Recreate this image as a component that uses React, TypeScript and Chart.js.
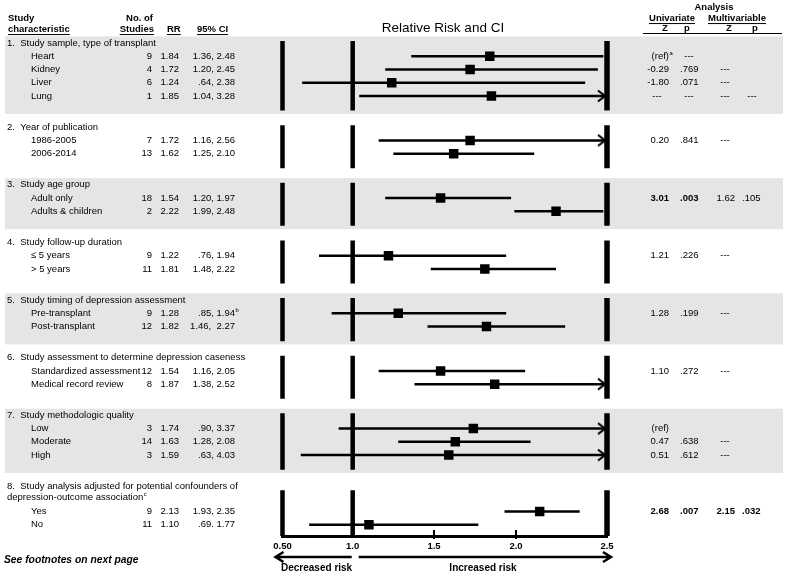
import React, { useEffect, useRef } from 'react';
import { Chart, registerables, LinearScale } from 'chart.js';

Chart.register(...registerables);

const FONT = "'Liberation Sans', Arial, Helvetica, sans-serif";

// ---------------- data ----------------
const groupTitles: string[][] = [
  ['1.  Study sample, type of transplant'],
  ['2.  Year of publication'],
  ['3.  Study age group'],
  ['4.  Study follow-up duration'],
  ['5.  Study timing of depression assessment'],
  ['6.  Study assessment to determine depression caseness'],
  ['7.  Study methodologic quality'],
  ['8.  Study analysis adjusted for potential confounders of', 'depression-outcome association^c'],
];
const groupSizes = [4, 2, 2, 2, 2, 2, 3, 2];

const rowLabels = [
  'Heart', 'Kidney', 'Liver', 'Lung',
  '1986-2005', '2006-2014',
  'Adult only', 'Adults & children',
  '\u2264 5 years', '> 5 years',
  'Pre-transplant', 'Post-transplant',
  'Standardized assessment', 'Medical record review',
  'Low', 'Moderate', 'High',
  'Yes', 'No',
];
const nStudies = [9, 4, 6, 1, 7, 13, 18, 2, 9, 11, 9, 12, 12, 8, 3, 14, 3, 9, 11];
const rr = [1.84, 1.72, 1.24, 1.85, 1.72, 1.62, 1.54, 2.22, 1.22, 1.81, 1.28, 1.82, 1.54, 1.87, 1.74, 1.63, 1.59, 2.13, 1.10];
const ciLow = [1.36, 1.20, 0.64, 1.04, 1.16, 1.25, 1.20, 1.99, 0.76, 1.48, 0.85, 1.46, 1.16, 1.38, 0.90, 1.28, 0.63, 1.93, 0.69];
const ciHigh = [2.48, 2.45, 2.38, 3.28, 2.56, 2.10, 1.97, 2.48, 1.94, 2.22, 1.94, 2.27, 2.05, 2.52, 3.37, 2.08, 4.03, 2.35, 1.77];
const ciText = [
  '1.36, 2.48', '1.20, 2.45', '.64, 2.38', '1.04, 3.28',
  '1.16, 2.56', '1.25, 2.10',
  '1.20, 1.97', '1.99, 2.48',
  '.76, 1.94', '1.48, 2.22',
  '.85, 1.94^b', '1.46,  2.27',
  '1.16, 2.05', '1.38, 2.52',
  '.90, 3.37', '1.28, 2.08', '.63, 4.03',
  '1.93, 2.35', '.69. 1.77',
];
const uniZ = ['(ref)^a', '-0.29', '-1.80', '---', '0.20', '', '3.01', '', '1.21', '', '1.28', '', '1.10', '', '(ref)', '0.47', '0.51', '2.68', ''];
const uniP = ['---', '.769', '.071', '---', '.841', '', '.003', '', '.226', '', '.199', '', '.272', '', '', '.638', '.612', '.007', ''];
const multiZ = ['', '---', '---', '---', '---', '', '1.62', '', '---', '', '---', '', '---', '', '', '---', '---', '2.15', ''];
const multiP = ['', '', '', '---', '', '', '.105', '', '', '', '', '', '', '', '', '', '', '.032', ''];
const boldUni = [false, false, false, false, false, false, true, false, false, false, false, false, false, false, false, false, false, true, false];
const boldMulti = [false, false, false, false, false, false, false, false, false, false, false, false, false, false, false, false, false, true, false];

// axis
const axisBreaks = [0.5, 1.0, 1.5, 2.0, 2.5];
const axisTickLabels = ['0.50', '1.0', '1.5', '2.0', '2.5'];
const refLines = [0.5, 1.0, 2.5];
const minorTicks = [1.5, 2.0];

// ---------------- layout ----------------
const W = 785, H = 575;
const PLOT_LEFT = 282.5, PLOT_RIGHT = 607, PLOT_TOP = 36, PLOT_BOTTOM = 536;
const ROW_H = 13.25, FIRST_ROW_Y = 43, GROUP_GAP = 2.35;
const axisFractions = [0, 0.2163, 0.4669, 0.7196, 1];
const Y_MIN = (PLOT_TOP - FIRST_ROW_Y) / ROW_H;
const Y_MAX = (PLOT_BOTTOM - FIRST_ROW_Y) / ROW_H;
const AX_MIN = axisBreaks[0], AX_MAX = axisBreaks[axisBreaks.length - 1];

// row slots
const groupSlot: number[] = [];
const lastSlot: number[] = [];
const rowSlot: number[] = [];
const rowGroup: number[] = [];
(() => {
  let s = 0;
  groupSizes.forEach((n, g) => {
    groupSlot.push(s);
    const first = groupTitles[g].length > 1 ? s + 1.9 : s + 1;
    for (let k = 0; k < n; k++) { rowSlot.push(first + k); rowGroup.push(g); }
    const last = first + n - 1;
    lastSlot.push(last);
    s = last + GROUP_GAP;
  });
})();

class PiecewiseLinearScale extends LinearScale {
  static id = 'piecewiseLinear';
  static defaults = {};
  pieceDecimal(value: number) {
    const b = axisBreaks, f = axisFractions;
    let i = 0;
    while (i < b.length - 2 && value > b[i + 1]) i++;
    return f[i] + ((value - b[i]) / (b[i + 1] - b[i])) * (f[i + 1] - f[i]);
  }
  getPixelForValue(value: any) {
    if (value === null || value === undefined || Number.isNaN(+value)) return NaN;
    return (this as any).getPixelForDecimal(this.pieceDecimal(+value));
  }
  getValueForPixel(pixel: number) {
    const d = (this as any).getDecimalForPixel(pixel);
    const b = axisBreaks, f = axisFractions;
    let i = 0;
    while (i < f.length - 2 && d > f[i + 1]) i++;
    return b[i] + ((d - f[i]) / (f[i + 1] - f[i])) * (b[i + 1] - b[i]);
  }
}
Chart.register(PiecewiseLinearScale as any);

function txt(
  ctx: CanvasRenderingContext2D, s: string, x: number, y: number,
  opt: { align?: 'left' | 'right' | 'center'; size?: number; bold?: boolean; italic?: boolean; underline?: boolean } = {}
) {
  if (!s) return;
  const size = opt.size ?? 9.5;
  const parts = s.split('^');
  const main = parts[0];
  const sup = parts[1];
  ctx.font = `${opt.italic ? 'italic ' : ''}${opt.bold ? 'bold ' : ''}${size}px ${FONT}`;
  const w = ctx.measureText(main).width;
  const x0 = opt.align === 'right' ? x - w : opt.align === 'center' ? x - w / 2 : x;
  ctx.textAlign = 'left';
  ctx.textBaseline = 'middle';
  ctx.fillStyle = '#000';
  ctx.fillText(main, x0, y);
  if (opt.underline) ctx.fillRect(x0, y + size * 0.5 + 0.3, w, 1);
  if (sup) {
    ctx.font = `${size * 0.62}px ${FONT}`;
    ctx.fillText(sup, x0 + w + 0.6, y - size * 0.32);
  }
}

function arrow(ctx: CanvasRenderingContext2D, x1: number, x2: number, y: number) {
  const dir = Math.sign(x2 - x1);
  ctx.beginPath();
  ctx.moveTo(x1, y);
  ctx.lineTo(x2, y);
  ctx.moveTo(x2 - dir * 8, y - 5);
  ctx.lineTo(x2, y);
  ctx.lineTo(x2 - dir * 8, y + 5);
  ctx.stroke();
}

const tablePlugin = {
  id: 'forestTable',
  beforeDraw(chart: any) {
    const ctx: CanvasRenderingContext2D = chart.ctx;
    const y = chart.scales.y;
    ctx.save();
    ctx.fillStyle = '#e5e5e5';
    groupSizes.forEach((_, g) => {
      if (g % 2 !== 0) return;
      const t = y.getPixelForValue(groupSlot[g] - 0.5);
      const b = y.getPixelForValue(lastSlot[g] + 1.35);
      ctx.fillRect(5, t, 778, b - t);
    });
    ctx.restore();
  },
  afterDraw(chart: any) {
    const ctx: CanvasRenderingContext2D = chart.ctx;
    const y = chart.scales.y;
    const x = chart.scales.x;
    ctx.save();

    // header
    txt(ctx, 'Study', 8, 18, { bold: true });
    txt(ctx, 'characteristic', 8, 29, { bold: true, underline: true });
    txt(ctx, 'No. of', 153, 18, { bold: true, align: 'right' });
    txt(ctx, 'Studies', 154, 29, { bold: true, align: 'right', underline: true });
    txt(ctx, 'RR', 167, 29, { bold: true, underline: true });
    txt(ctx, '95% CI', 197, 29, { bold: true, underline: true });
    txt(ctx, 'Relative Risk and CI', 443, 28, { size: 13.5, align: 'center' });
    txt(ctx, 'Analysis', 714, 7, { bold: true, align: 'center' });
    txt(ctx, 'Univariate', 672, 18, { bold: true, align: 'center', underline: true });
    txt(ctx, 'Multivariable', 737, 18, { bold: true, align: 'center', underline: true });
    txt(ctx, 'Z', 665, 28, { bold: true, align: 'center' });
    txt(ctx, 'p', 687, 28, { bold: true, align: 'center' });
    txt(ctx, 'Z', 729, 28, { bold: true, align: 'center' });
    txt(ctx, 'p', 755, 28, { bold: true, align: 'center' });
    ctx.fillStyle = '#000';
    ctx.fillRect(643, 33, 139, 1);

    // group titles
    groupTitles.forEach((lines, g) => {
      lines.forEach((line, k) => {
        txt(ctx, line, 7, y.getPixelForValue(groupSlot[g] + k * 0.85));
      });
    });

    // rows
    rowLabels.forEach((lab, i) => {
      const py = y.getPixelForValue(rowSlot[i]);
      txt(ctx, lab, 31, py);
      txt(ctx, String(nStudies[i]), 152, py, { align: 'right' });
      txt(ctx, rr[i].toFixed(2), 179, py, { align: 'right' });
      txt(ctx, ciText[i], 235, py, { align: 'right' });
      const dash = (s: string) => s === '---';
      txt(ctx, uniZ[i], dash(uniZ[i]) ? 657 : 669, py, { align: dash(uniZ[i]) ? 'center' : 'right', bold: boldUni[i] });
      txt(ctx, uniP[i], dash(uniP[i]) ? 689 : 680, py, { align: dash(uniP[i]) ? 'center' : 'left', bold: boldUni[i] });
      txt(ctx, multiZ[i], dash(multiZ[i]) ? 725 : 735, py, { align: dash(multiZ[i]) ? 'center' : 'right', bold: boldMulti[i] });
      txt(ctx, multiP[i], dash(multiP[i]) ? 752 : 742, py, { align: dash(multiP[i]) ? 'center' : 'left', bold: boldMulti[i] });
    });

    // minor axis ticks
    ctx.fillStyle = '#000';
    minorTicks.forEach((v) => {
      const px = x.getPixelForValue(v);
      ctx.fillRect(px - 1, PLOT_BOTTOM - 6, 2, 9);
    });

    // direction arrows
    ctx.strokeStyle = '#000';
    ctx.lineWidth = 2.5;
    ctx.lineCap = 'butt';
    ctx.lineJoin = 'miter';
    const p05 = x.getPixelForValue(AX_MIN);
    const p1 = x.getPixelForValue(1.0);
    const p25 = x.getPixelForValue(AX_MAX);
    arrow(ctx, p1 - 1, p05 - 7, 557);
    arrow(ctx, p1 + 6, p25 + 4, 557);
    txt(ctx, 'Decreased risk', (p05 + p1) / 2 - 1, 568, { bold: true, size: 10, align: 'center' });
    txt(ctx, 'Increased risk', 483, 568, { bold: true, size: 10, align: 'center' });

    txt(ctx, 'See footnotes on next page', 4, 560, { bold: true, italic: true, size: 10.3 });
    ctx.restore();
  },
};

export default function App() {
  const ref = useRef<HTMLCanvasElement>(null);
  useEffect(() => {
    const canvas = ref.current!;

    // chevron arrowhead image
    const chev = document.createElement('canvas');
    chev.width = 24; chev.height = 14;
    const g = chev.getContext('2d')!;
    g.strokeStyle = '#000'; g.lineWidth = 2.2; g.lineJoin = 'miter';
    g.beginPath(); g.moveTo(3, 1.5); g.lineTo(10, 7); g.lineTo(3, 12.5); g.stroke();

    const markerData = rr.map((v, i) => ({ x: v, y: rowSlot[i] }));
    const ciData: any[] = [];
    rr.forEach((_, i) => {
      ciData.push({ x: ciLow[i], y: rowSlot[i] }, { x: Math.min(ciHigh[i], AX_MAX), y: rowSlot[i] }, { x: null, y: null });
    });
    const arrowData = ciHigh
      .map((h, i) => (h > AX_MAX ? { x: AX_MAX, y: rowSlot[i] } : null))
      .filter((p) => p !== null);
    const barSegments = (r: number) => {
      const out: any[] = [];
      groupSizes.forEach((_, gi) => {
        const top = groupTitles[gi].length > 1 ? groupSlot[gi] + 0.3 : groupSlot[gi] - 0.15;
        const bottom = gi === groupSizes.length - 1 ? Y_MAX : lastSlot[gi] + 1.1;
        out.push({ x: r, y: top }, { x: r, y: bottom }, { x: null, y: null });
      });
      return out;
    };
    const lowBars = [...barSegments(refLines[0]), ...barSegments(refLines[1])];
    const highBars = barSegments(refLines[2]);

    const chart = new Chart(canvas, {
      type: 'scatter',
      data: {
        datasets: [
          { label: 'RR', data: markerData, pointStyle: 'rect', pointRadius: 6.7, backgroundColor: '#000', borderWidth: 0, showLine: false } as any,
          { label: '95% CI', data: ciData, showLine: true, borderColor: '#000', borderWidth: 2.5, pointRadius: 0, spanGaps: false, borderCapStyle: 'butt' } as any,
          { label: 'CI beyond axis', data: arrowData, pointStyle: chev, pointRadius: 5, showLine: false, clip: false } as any,
          { label: 'ref low', data: lowBars, showLine: true, borderColor: '#000', borderWidth: 4.5, pointRadius: 0, spanGaps: false, borderCapStyle: 'butt', clip: false } as any,
          { label: 'ref high', data: highBars, showLine: true, borderColor: '#000', borderWidth: 5.5, pointRadius: 0, spanGaps: false, borderCapStyle: 'butt', clip: false } as any,
        ],
      },
      options: {
        responsive: false,
        animation: false,
        events: [],
        layout: { padding: { left: PLOT_LEFT, right: W - PLOT_RIGHT, top: PLOT_TOP, bottom: 0 } },
        plugins: { legend: { display: false }, tooltip: { enabled: false } },
        scales: {
          x: {
            type: 'piecewiseLinear' as any,
            position: 'bottom',
            min: AX_MIN,
            max: AX_MAX,
            afterBuildTicks: (s: any) => { s.ticks = axisBreaks.map((v) => ({ value: v })); },
            afterFit: (s: any) => { s.height = H - PLOT_BOTTOM; },
            border: { display: true, color: '#000', width: 3 },
            grid: { display: false, drawTicks: false },
            ticks: {
              autoSkip: false, maxRotation: 0, minRotation: 0, padding: 5, color: '#000',
              font: { family: FONT, size: 9.5, weight: 'bold' },
              callback: (v: any) => axisTickLabels[axisBreaks.indexOf(Number(v))] ?? '',
            },
          } as any,
          y: { type: 'linear', display: false, reverse: true, min: Y_MIN, max: Y_MAX },
        },
      },
      plugins: [tablePlugin],
    });
    return () => chart.destroy();
  }, []);
  return (
    <div style={{ position: 'fixed', left: 0, top: 0, width: W, height: H, background: '#fff' }}>
      <canvas ref={ref} width={W} height={H} style={{ display: 'block', width: W, height: H }} />
    </div>
  );
}
